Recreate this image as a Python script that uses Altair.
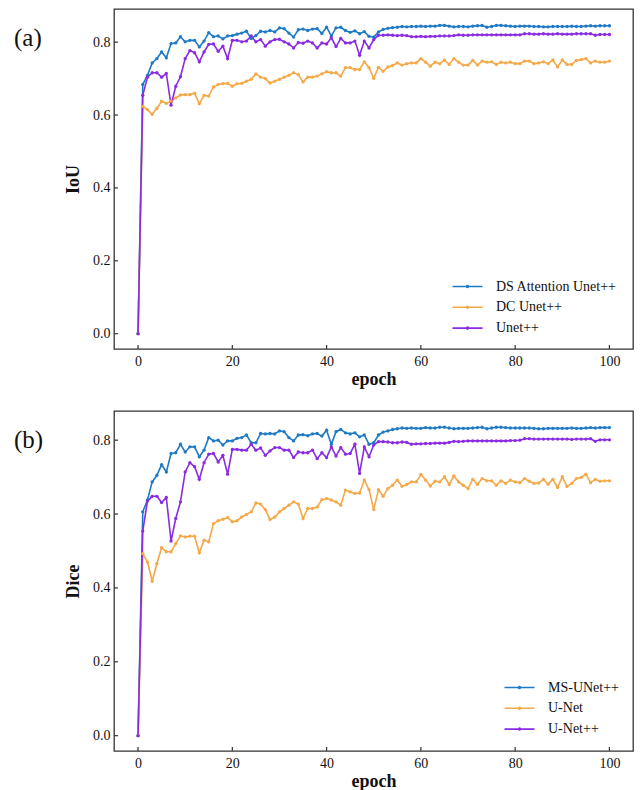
import altair as alt
import pandas as pd

epochs = list(range(101))

# ---- (a) IoU ----
iou_names = ["DS Attention Unet++", "DC Unet++", "Unet++"]
iou_ds_attention = [0.0,
    0.684, 0.709, 0.743, 0.755, 0.773, 0.757, 0.796, 0.798, 0.815, 0.801,
    0.805, 0.805, 0.787, 0.803, 0.826, 0.815, 0.817, 0.809, 0.817, 0.818,
    0.822, 0.825, 0.830, 0.810, 0.818, 0.830, 0.828, 0.832, 0.828, 0.839,
    0.837, 0.825, 0.814, 0.834, 0.836, 0.832, 0.836, 0.837, 0.824, 0.841,
    0.817, 0.839, 0.841, 0.832, 0.827, 0.831, 0.823, 0.829, 0.816, 0.814,
    0.828, 0.835, 0.838, 0.840, 0.841, 0.843, 0.842, 0.843, 0.843, 0.844,
    0.843, 0.844, 0.844, 0.846, 0.846, 0.844, 0.842, 0.843, 0.843, 0.842,
    0.844, 0.845, 0.846, 0.841, 0.843, 0.846, 0.846, 0.845, 0.844, 0.843,
    0.844, 0.844, 0.844, 0.843, 0.843, 0.842, 0.842, 0.843, 0.843, 0.843,
    0.843, 0.844, 0.843, 0.843, 0.844, 0.845, 0.844, 0.845, 0.845, 0.845]
iou_dc = [0.0,
    0.624, 0.615, 0.602, 0.618, 0.638, 0.632, 0.638, 0.647, 0.655, 0.656,
    0.656, 0.660, 0.631, 0.654, 0.652, 0.677, 0.684, 0.686, 0.687, 0.679,
    0.686, 0.687, 0.693, 0.698, 0.713, 0.704, 0.700, 0.688, 0.693, 0.698,
    0.704, 0.709, 0.716, 0.711, 0.691, 0.704, 0.704, 0.707, 0.713, 0.719,
    0.716, 0.716, 0.707, 0.730, 0.730, 0.725, 0.725, 0.746, 0.730, 0.701,
    0.731, 0.720, 0.732, 0.736, 0.743, 0.737, 0.741, 0.743, 0.743, 0.755,
    0.745, 0.734, 0.745, 0.741, 0.751, 0.739, 0.755, 0.745, 0.737, 0.737,
    0.750, 0.737, 0.748, 0.745, 0.746, 0.739, 0.745, 0.743, 0.745, 0.741,
    0.741, 0.748, 0.748, 0.741, 0.743, 0.746, 0.741, 0.751, 0.732, 0.751,
    0.739, 0.739, 0.750, 0.752, 0.755, 0.743, 0.748, 0.745, 0.745, 0.748]
iou_unetpp = [0.0,
    0.654, 0.704, 0.716, 0.716, 0.704, 0.714, 0.627, 0.679, 0.705, 0.755,
    0.777, 0.771, 0.746, 0.773, 0.794, 0.795, 0.775, 0.789, 0.755, 0.805,
    0.805, 0.801, 0.803, 0.817, 0.801, 0.807, 0.789, 0.801, 0.807, 0.808,
    0.801, 0.795, 0.784, 0.799, 0.797, 0.803, 0.798, 0.784, 0.798, 0.795,
    0.812, 0.788, 0.810, 0.798, 0.798, 0.803, 0.764, 0.803, 0.784, 0.807,
    0.819, 0.819, 0.820, 0.819, 0.818, 0.819, 0.818, 0.815, 0.815, 0.816,
    0.815, 0.816, 0.816, 0.817, 0.817, 0.817, 0.818, 0.820, 0.819, 0.819,
    0.820, 0.820, 0.820, 0.820, 0.820, 0.820, 0.820, 0.820, 0.820, 0.820,
    0.820, 0.823, 0.823, 0.822, 0.822, 0.823, 0.822, 0.822, 0.823, 0.822,
    0.822, 0.822, 0.823, 0.823, 0.823, 0.823, 0.819, 0.821, 0.821, 0.821]

# ---- (b) Dice ----
dice_names = ["MS-UNet++", "U-Net", "U-Net++"]
dice_ms_unetpp = [0.0,
    0.606, 0.638, 0.687, 0.705, 0.734, 0.714, 0.764, 0.766, 0.789, 0.768,
    0.782, 0.782, 0.755, 0.773, 0.807, 0.798, 0.800, 0.787, 0.798, 0.798,
    0.805, 0.807, 0.814, 0.793, 0.793, 0.818, 0.817, 0.818, 0.817, 0.825,
    0.823, 0.807, 0.798, 0.814, 0.815, 0.812, 0.817, 0.818, 0.811, 0.827,
    0.789, 0.823, 0.829, 0.820, 0.817, 0.820, 0.809, 0.814, 0.789, 0.793,
    0.814, 0.822, 0.825, 0.829, 0.831, 0.833, 0.832, 0.833, 0.832, 0.832,
    0.834, 0.833, 0.833, 0.835, 0.835, 0.833, 0.831, 0.832, 0.832, 0.832,
    0.833, 0.834, 0.835, 0.831, 0.833, 0.835, 0.835, 0.834, 0.833, 0.833,
    0.833, 0.833, 0.833, 0.832, 0.831, 0.831, 0.832, 0.832, 0.832, 0.832,
    0.832, 0.833, 0.832, 0.832, 0.833, 0.834, 0.833, 0.834, 0.834, 0.834]
dice_unet = [0.0,
    0.493, 0.470, 0.418, 0.466, 0.509, 0.498, 0.498, 0.520, 0.541, 0.538,
    0.540, 0.540, 0.495, 0.529, 0.525, 0.574, 0.582, 0.586, 0.591, 0.579,
    0.582, 0.592, 0.599, 0.606, 0.630, 0.627, 0.612, 0.585, 0.592, 0.606,
    0.615, 0.624, 0.633, 0.627, 0.588, 0.615, 0.615, 0.619, 0.639, 0.642,
    0.638, 0.633, 0.624, 0.665, 0.660, 0.656, 0.657, 0.692, 0.666, 0.612,
    0.666, 0.648, 0.669, 0.678, 0.692, 0.675, 0.680, 0.687, 0.687, 0.707,
    0.692, 0.676, 0.689, 0.687, 0.701, 0.680, 0.703, 0.687, 0.678, 0.669,
    0.694, 0.680, 0.696, 0.690, 0.690, 0.678, 0.690, 0.683, 0.692, 0.687,
    0.685, 0.696, 0.689, 0.683, 0.684, 0.694, 0.681, 0.694, 0.672, 0.701,
    0.675, 0.683, 0.696, 0.699, 0.708, 0.685, 0.694, 0.689, 0.690, 0.690]
dice_unetpp = [0.0,
    0.554, 0.635, 0.648, 0.648, 0.631, 0.645, 0.527, 0.588, 0.633, 0.714,
    0.739, 0.728, 0.694, 0.739, 0.762, 0.764, 0.741, 0.759, 0.708, 0.775,
    0.775, 0.773, 0.773, 0.789, 0.773, 0.779, 0.759, 0.771, 0.780, 0.780,
    0.773, 0.773, 0.753, 0.768, 0.766, 0.766, 0.773, 0.750, 0.766, 0.753,
    0.782, 0.757, 0.780, 0.762, 0.764, 0.789, 0.710, 0.782, 0.755, 0.787,
    0.796, 0.796, 0.795, 0.793, 0.793, 0.795, 0.794, 0.789, 0.790, 0.790,
    0.791, 0.791, 0.792, 0.792, 0.792, 0.794, 0.797, 0.796, 0.797, 0.798,
    0.798, 0.798, 0.798, 0.798, 0.798, 0.798, 0.798, 0.798, 0.799, 0.799,
    0.800, 0.804, 0.804, 0.803, 0.803, 0.803, 0.803, 0.803, 0.803, 0.803,
    0.803, 0.802, 0.803, 0.803, 0.803, 0.804, 0.797, 0.801, 0.801, 0.801]

x_ticks = [0, 20, 40, 60, 80, 100]
y_ticks = [0.0, 0.2, 0.4, 0.6, 0.8]
colors = ["#1f7ac6", "#f5a848", "#8a2be2"]

FONT = "Liberation Serif"
FRAME = "#333333"
W, H = 519, 340
LEGEND_SYMBOL = "M-2,0L2,0M-0.13,0A0.13,0.13,0,1,1,0.13,0A0.13,0.13,0,1,1,-0.13,0"


def panel(names, series, ytitle, tag, ydomain, legend_x, legend_y):
    rows = []
    for name, vals in zip(names, series):
        for e, v in zip(epochs, vals):
            rows.append({"epoch": e, "value": v, "model": name})
    df = pd.DataFrame(rows)

    xscale = alt.Scale(domain=[-5.1, 105], nice=False, zero=False)
    yscale = alt.Scale(domain=ydomain, nice=False, zero=False)

    lines = alt.Chart(df).mark_line(
        strokeWidth=1.6,
        point=alt.OverlayMarkDef(size=11, filled=True, opacity=1),
    ).encode(
        x=alt.X("epoch:Q", scale=xscale,
                axis=alt.Axis(values=x_ticks, title="epoch", labelPadding=5,
                              titlePadding=2)),
        y=alt.Y("value:Q", scale=yscale,
                axis=alt.Axis(values=y_ticks, format=".1f", title=ytitle,
                              labelPadding=4, titlePadding=10)),
        color=alt.Color("model:N",
                        scale=alt.Scale(domain=names, range=colors),
                        legend=alt.Legend(
                            title=None, orient="none",
                            legendX=legend_x, legendY=legend_y,
                            symbolType=LEGEND_SYMBOL, symbolSize=225,
                            symbolStrokeWidth=1.6, labelFont=FONT,
                            labelFontSize=14, labelColor="#111111",
                            labelOffset=20, rowPadding=4.8, padding=0)),
    )

    ytick_rules = alt.Chart(pd.DataFrame({"value": y_ticks})).mark_rule(
        color=FRAME, strokeWidth=1.2
    ).encode(y=alt.Y("value:Q", scale=yscale), x=alt.value(0), x2=alt.value(4))

    xtick_rules = alt.Chart(pd.DataFrame({"epoch": x_ticks})).mark_rule(
        color=FRAME, strokeWidth=1.2
    ).encode(x=alt.X("epoch:Q", scale=xscale), y=alt.value(H), y2=alt.value(H - 4))

    tag_text = alt.Chart(pd.DataFrame({"t": [tag]})).mark_text(
        font=FONT, fontSize=25, align="left", baseline="middle", color="#111111"
    ).encode(text="t:N", x=alt.value(-100), y=alt.value(29))

    return alt.layer(lines, ytick_rules, xtick_rules, tag_text).properties(
        width=W, height=H)


top = panel(iou_names, [iou_ds_attention, iou_dc, iou_unetpp], "IoU", "(a)",
            [-0.042, 0.891], 345, 269)
bottom = panel(dice_names, [dice_ms_unetpp, dice_unet, dice_unetpp], "Dice", "(b)",
               [-0.0415, 0.879], 397, 268)

chart = alt.vconcat(top, bottom, spacing=21).resolve_scale(
    color="independent"
).properties(
    padding={"left": 13, "top": 8, "right": 0, "bottom": 0},
    background="white",
).configure_view(
    stroke=FRAME, strokeWidth=1.3
).configure_axis(
    labelFont=FONT, labelFontSize=14, labelColor="#111111",
    titleFont=FONT, titleFontSize=18, titleFontWeight="bold", titleColor="#111111",
    grid=False, domain=False, ticks=False, tickSize=0,
)

chart.save("out.html", embed_options={"renderer": "svg", "actions": False})
